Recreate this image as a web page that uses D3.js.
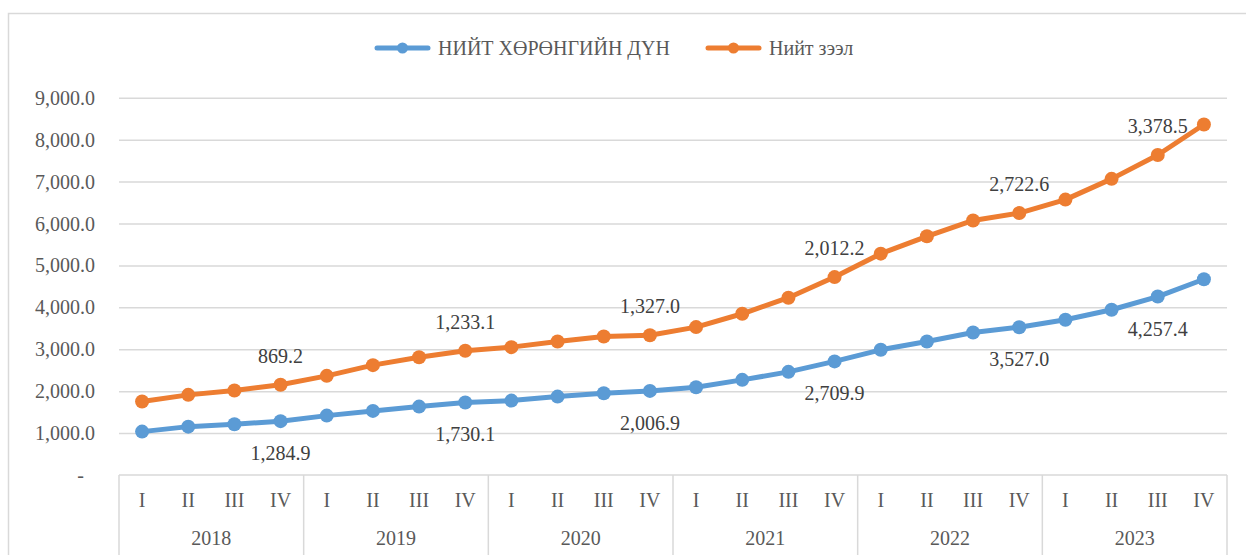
<!DOCTYPE html>
<html>
<head>
<meta charset="utf-8">
<script src="https://cdn.jsdelivr.net/npm/d3@7"></script>
<style>
  body { margin: 0; background: #fff; }
  svg text { font-family: "Liberation Serif", "Tinos", "Times New Roman", "DejaVu Serif", serif; }
  .grid line { stroke: #d9d9d9; stroke-width: 1.5; }
  .grid path { display: none; }
  .tick-label { fill: #595959; font-size: 20px; }
  .dlabel { fill: #404040; font-size: 20px; }
</style>
</head>
<body>
<svg width="1246" height="555"></svg>
<script>
// quarters and years
const years = ['2018', '2019', '2020', '2021', '2022', '2023'];
const quarters = ['I', 'II', 'III', 'IV'];

// НИЙТ ХӨРӨНГИЙН ДҮН (blue series)
const assets = [
  1035, 1154, 1211, 1284.9,
  1417, 1529, 1632, 1730.1,
  1775, 1871, 1952, 2006.9,
  2095, 2270, 2461, 2709.9,
  2987, 3186, 3400, 3527.0,
  3704, 3943, 4257.4, 4670
];
// Нийт зээл (stacked on top of the blue series)
const loans = [
  717, 758, 804, 869.2,
  949, 1092, 1176, 1233.1,
  1276, 1314, 1353, 1327.0,
  1434, 1577, 1769, 2012.2,
  2294, 2509, 2673, 2722.6,
  2867, 3123, 3378.5, 3693
];
// which points carry a data label
const labelIdx = [3, 7, 11, 15, 19, 22];

const yTicks = [0, 1000, 2000, 3000, 4000, 5000, 6000, 7000, 8000, 9000];
const seriesNames = ['НИЙТ ХӨРӨНГИЙН ДҮН', 'Нийт зээл'];
const colors = ['#5b9bd5', '#ed7d31'];

const svg = d3.select('svg');

// outer chart border
svg.append('rect')
  .attr('x', 8.5).attr('y', 13.5)
  .attr('width', 1260).attr('height', 600)
  .attr('fill', 'none').attr('stroke', '#d9d9d9').attr('stroke-width', 1.5);

const plotL = 119, plotR = 1227, plotT = 97.8, plotB = 475;

const rows = assets.map((a, i) => ({ i: i, assets: a, loans: loans[i] }));
const stacked = d3.stack().keys(['assets', 'loans'])(rows);

const x = d3.scalePoint()
  .domain(d3.range(assets.length))
  .range([plotL, plotR])
  .padding(0.5);

const y = d3.scaleLinear()
  .domain([0, 9000])
  .range([plotB, plotT]);

// gridlines
svg.append('g')
  .attr('class', 'grid')
  .attr('transform', `translate(${plotL},0)`)
  .call(d3.axisLeft(y).tickValues(yTicks.slice(1)).tickSize(-(plotR - plotL)).tickFormat(''));

// y labels
const fmt = d3.format(',.1f');
svg.append('g').selectAll('text')
  .data(yTicks)
  .enter().append('text')
  .attr('class', 'tick-label')
  .attr('x', (d) => d === 0 ? 84 : 95)
  .attr('y', (d) => y(d))
  .attr('dy', '0.35em')
  .attr('text-anchor', 'end')
  .text((d) => d === 0 ? '-' : fmt(d));

// category axis (two levels)
const axisCol = '#d9d9d9';
svg.append('line')
  .attr('x1', plotL).attr('x2', plotR).attr('y1', plotB).attr('y2', plotB)
  .attr('stroke', axisCol).attr('stroke-width', 1.5);

const step = x.step();
const bounds = d3.range(years.length + 1).map((k) => plotL + k * 4 * step);
svg.append('g').selectAll('line')
  .data(bounds)
  .enter().append('line')
  .attr('x1', (d) => d).attr('x2', (d) => d)
  .attr('y1', plotB).attr('y2', 560)
  .attr('stroke', axisCol).attr('stroke-width', 1.5);

svg.append('g').selectAll('text')
  .data(d3.range(assets.length))
  .enter().append('text')
  .attr('class', 'tick-label')
  .attr('x', (i) => x(i))
  .attr('y', 500)
  .attr('dy', '0.35em')
  .attr('text-anchor', 'middle')
  .text((i) => quarters[i % 4]);

svg.append('g').selectAll('text')
  .data(years)
  .enter().append('text')
  .attr('class', 'tick-label')
  .attr('x', (d, k) => (bounds[k] + bounds[k + 1]) / 2)
  .attr('y', 538)
  .attr('dy', '0.35em')
  .attr('text-anchor', 'middle')
  .text((d) => d);

// lines and markers
const line = d3.line()
  .x((d, i) => x(i))
  .y((d) => y(d[1]));

stacked.forEach((s, k) => {
  svg.append('path')
    .datum(s)
    .attr('fill', 'none')
    .attr('stroke', colors[k])
    .attr('stroke-width', 5)
    .attr('stroke-linejoin', 'round')
    .attr('d', line);

  svg.append('g').selectAll('circle')
    .data(s)
    .enter().append('circle')
    .attr('cx', (d, i) => x(i))
    .attr('cy', (d) => y(d[1]))
    .attr('r', 7)
    .attr('fill', colors[k]);
});

// data labels: blue below, orange above
svg.append('g').selectAll('text')
  .data(labelIdx)
  .enter().append('text')
  .attr('class', 'dlabel')
  .attr('x', (i) => x(i))
  .attr('y', (i) => y(stacked[0][i][1]) + 32)
  .attr('dy', '0.35em')
  .attr('text-anchor', 'middle')
  .text((i) => fmt(assets[i]));

svg.append('g').selectAll('text')
  .data(labelIdx)
  .enter().append('text')
  .attr('class', 'dlabel')
  .attr('x', (i) => x(i))
  .attr('y', (i) => y(stacked[1][i][1]) - 29)
  .attr('dy', '0.35em')
  .attr('text-anchor', 'middle')
  .text((i) => fmt(loans[i]));

// legend
const legend = [
  { name: seriesNames[0], color: colors[0], x: 377 },
  { name: seriesNames[1], color: colors[1], x: 708 }
];
const lg = svg.append('g').selectAll('g')
  .data(legend)
  .enter().append('g')
  .attr('transform', (d) => `translate(${d.x},48)`);
lg.append('line')
  .attr('x1', 0).attr('x2', 51)
  .attr('stroke', (d) => d.color).attr('stroke-width', 5)
  .attr('stroke-linecap', 'round');
lg.append('circle')
  .attr('cx', 25.5).attr('r', 5.5)
  .attr('fill', (d) => d.color);
lg.append('text')
  .attr('x', 61)
  .attr('dy', '0.35em')
  .attr('fill', '#595959')
  .style('font-size', '20px')
  .text((d) => d.name);
</script>
</body>
</html>
